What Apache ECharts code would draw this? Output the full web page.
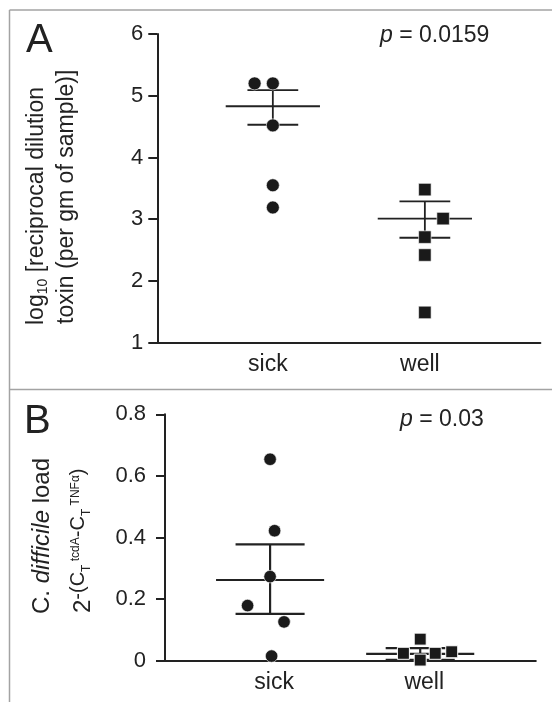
<!DOCTYPE html>
<html><head><meta charset="utf-8">
<script src="https://cdn.jsdelivr.net/npm/echarts@6/dist/echarts.min.js"></script>
<style>html,body{margin:0;padding:0;background:#fff}#c{width:552px;height:702px}</style>
</head><body><div id="c"></div>
<script>
// ---------- data ----------
const categories = ['sick', 'well'];
// Panel A
const yTicksA = [1, 2, 3, 4, 5, 6];
const sickA = [5.20, 5.20, 4.52, 3.55, 3.19];
const sickAJitter = [-0.12, 0, 0, 0, 0];
const wellA = [3.48, 3.01, 2.71, 2.42, 1.49];
const wellAJitter = [0, 0.12, 0, 0, 0];
const meanA = [4.83, 3.01];
const upperA = [5.09, 3.29];
const lowerA = [4.53, 2.70];
const pTextA = ' = 0.0159';
// Panel B
const yTicksB = [0, 0.2, 0.4, 0.6, 0.8];
const sickB = [0.654, 0.422, 0.273, 0.179, 0.126, 0.015];
const sickBJitter = [0, 0.03, 0, -0.15, 0.093, 0.01];
const wellB = [0.070, 0.024, 0.002, 0.024, 0.029];
const wellBJitter = [0, -0.112, 0, 0.10, 0.21];
const meanB = [0.262, 0.022];
const upperB = [0.378, 0.041];
const lowerB = [0.152, 0.003];
const pTextB = ' = 0.03';

// ---------- styles ----------
const FONT = 'Liberation Sans, Arial, Helvetica, sans-serif';
const INK = '#222';
const FRAME = '#a3a3a3';

function errRender(meanHalf, capHalf, lw) {
  return function (params, api) {
    const x = api.value(0), m = api.value(1), u = api.value(2), l = api.value(3);
    const p = (a, b) => api.coord([a, b]);
    const st = { stroke: INK, lineWidth: lw };
    const line = (a, b) => ({ type: 'line', shape: { x1: a[0], y1: a[1], x2: b[0], y2: b[1] }, style: st });
    return { type: 'group', children: [
      line(p(x - meanHalf, m), p(x + meanHalf, m)),
      line(p(x - capHalf, u), p(x + capHalf, u)),
      line(p(x - capHalf, l), p(x + capHalf, l)),
      line(p(x, u), p(x, l))
    ] };
  };
}
const errData = (mean, up, lo) => mean.map((m, i) => [i + 1, m, up[i], lo[i]]);
const pts = (vals, jit, c) => vals.map((v, i) => [c + jit[i], v]);

function xAxisCfg(gi, min, max, pad) {
  return {
    gridIndex: gi, type: 'value', min: min, max: max,
    axisLine: { show: true, onZero: false, lineStyle: { color: INK, width: 2 } },
    axisTick: { show: false }, splitLine: { show: false },
    axisLabel: {
      customValues: [1, 2], formatter: v => categories[Math.round(v) - 1],
      color: INK, fontSize: 23, fontFamily: FONT, margin: 10, padding: pad
    }
  };
}
function yAxisCfg(gi, min, max, interval, margin, fmt) {
  return {
    gridIndex: gi, type: 'value', min: min, max: max, interval: interval,
    axisLine: { show: true, lineStyle: { color: INK, width: 2 } },
    axisTick: { show: true, length: 9, lineStyle: { color: INK, width: 2 } },
    splitLine: { show: false },
    axisLabel: { color: INK, fontSize: 22, fontFamily: FONT, margin: margin, formatter: fmt }
  };
}
const tok = (size, top, extra) => Object.assign({ fontSize: size, fontFamily: FONT, fill: INK, lineHeight: size,
  verticalAlign: 'top', padding: [top, 0, 0, 0] }, extra || {});

const chart = echarts.init(document.getElementById('c'), null, { renderer: 'canvas' });
const option = {
  animation: false,
  backgroundColor: '#fff',
  grid: [
    { left: 157.3, right: 11.6, top: 34, bottom: 359.3, containLabel: false, outerBoundsMode: 'none' },
    { left: 165, right: 16.2, top: 414.3, bottom: 41.3, containLabel: false, outerBoundsMode: 'none' }
  ],
  xAxis: [xAxisCfg(0, 0.24, 2.76, [0, 10, 0, 0]), xAxisCfg(1, 0.3, 2.77, [0, 0, 0, 8])],
  yAxis: [
    yAxisCfg(0, yTicksA[0], yTicksA[yTicksA.length - 1], 1, 14, v => String(v)),
    yAxisCfg(1, yTicksB[0], yTicksB[yTicksB.length - 1], 0.2, 19, v => (v === 0 ? '0' : v.toFixed(1)))
  ],
  series: [
    { type: 'custom', xAxisIndex: 0, yAxisIndex: 0, z: 2, silent: true,
      renderItem: errRender(0.31, 0.167, 1.8), encode: { x: 0, y: [1, 2, 3] }, data: errData(meanA, upperA, lowerA) },
    { type: 'custom', xAxisIndex: 1, yAxisIndex: 1, z: 2, silent: true,
      renderItem: errRender(0.36, 0.23, 2.2), encode: { x: 0, y: [1, 2, 3] }, data: errData(meanB, upperB, lowerB) },
    { type: 'scatter', xAxisIndex: 0, yAxisIndex: 0, z: 3, silent: true, symbol: 'circle', symbolSize: 13,
      itemStyle: { color: '#1a1a1a', borderColor: '#fff', borderWidth: 0.6, opacity: 1 }, data: pts(sickA, sickAJitter, 1) },
    { type: 'scatter', xAxisIndex: 0, yAxisIndex: 0, z: 3, silent: true, symbol: 'rect', symbolSize: 12.5,
      itemStyle: { color: '#1a1a1a', borderColor: '#fff', borderWidth: 0.6, opacity: 1 }, data: pts(wellA, wellAJitter, 2) },
    { type: 'scatter', xAxisIndex: 1, yAxisIndex: 1, z: 3, silent: true, symbol: 'circle', symbolSize: 12.5,
      itemStyle: { color: '#1a1a1a', borderColor: '#fff', borderWidth: 0.6, opacity: 1 }, data: pts(sickB, sickBJitter, 1) },
    { type: 'scatter', xAxisIndex: 1, yAxisIndex: 1, z: 3, silent: true, symbol: 'rect', symbolSize: 12,
      itemStyle: { color: '#1a1a1a', borderColor: '#fff', borderWidth: 1, opacity: 1 }, data: pts(wellB, wellBJitter, 2) }
  ],
  graphic: [
    // frame
    { type: 'line', shape: { x1: 9.5, y1: 10, x2: 552, y2: 10 }, style: { stroke: FRAME, lineWidth: 1.5 }, silent: true },
    { type: 'line', shape: { x1: 9.5, y1: 10, x2: 9.5, y2: 702 }, style: { stroke: FRAME, lineWidth: 1.5 }, silent: true },
    { type: 'line', shape: { x1: 9.5, y1: 389.5, x2: 552, y2: 389.5 }, style: { stroke: FRAME, lineWidth: 1.5 }, silent: true },
    // panel letters
    { type: 'text', x: 26, y: 41, silent: true,
      style: { text: 'A', fontSize: 40, fontFamily: FONT, fill: INK, align: 'left', verticalAlign: 'middle' } },
    { type: 'text', x: 24, y: 422, silent: true,
      style: { text: 'B', fontSize: 40, fontFamily: FONT, fill: INK, align: 'left', verticalAlign: 'middle' } },
    // p values
    { type: 'text', x: 380, y: 36, silent: true,
      style: { text: '{i|p}{n|' + pTextA + '}', align: 'left', verticalAlign: 'middle',
        rich: { i: { fontSize: 23, fontStyle: 'italic', fontFamily: FONT, fill: INK }, n: { fontSize: 23, fontFamily: FONT, fill: INK } } } },
    { type: 'text', x: 400, y: 420, silent: true,
      style: { text: '{i|p}{n|' + pTextB + '}', align: 'left', verticalAlign: 'middle',
        rich: { i: { fontSize: 23, fontStyle: 'italic', fontFamily: FONT, fill: INK }, n: { fontSize: 23, fontFamily: FONT, fill: INK } } } },
    // Panel A y title
    { type: 'text', x: 37, y: 325, rotation: Math.PI / 2, silent: true,
      style: { text: '{a|log}{s|10}{a| [reciprocal dilution}', align: 'left', verticalAlign: 'middle',
        rich: {
          a: { fontSize: 23, fontFamily: FONT, fill: INK, lineHeight: 26, verticalAlign: 'middle' },
          s: { fontSize: 14, fontFamily: FONT, fill: INK, lineHeight: 14, verticalAlign: 'bottom' }
        } } },
    { type: 'text', x: 67, y: 324, rotation: Math.PI / 2, silent: true,
      style: { text: 'toxin (per gm of sample)]', align: 'left', verticalAlign: 'middle',
        fontSize: 23, fontFamily: FONT, fill: INK } },
    // Panel B y title
    { type: 'text', x: 42, y: 614, rotation: Math.PI / 2, silent: true,
      style: { text: '{a|C. }{i|difficile}{a| load}', align: 'left', verticalAlign: 'middle',
        rich: {
          a: { fontSize: 24, fontFamily: FONT, fill: INK },
          i: { fontSize: 24, fontFamily: FONT, fontStyle: 'italic', fill: INK }
        } } },
    { type: 'text', x: 77, y: 613, rotation: Math.PI / 2, silent: true,
      style: { text: '{b|2}{e|-(C}{sb|T}{sp| tcdA}{e|-C}{sb|T}{sp| TNFα}{e|)}', align: 'left', verticalAlign: 'middle',
        rich: {
          b: tok(24, 6.5),
          e: tok(20, 3),
          sb: tok(12, 16),
          sp: tok(12, 4.5)
        } } }
  ]
};
chart.setOption(option);
</script>
</body></html>
